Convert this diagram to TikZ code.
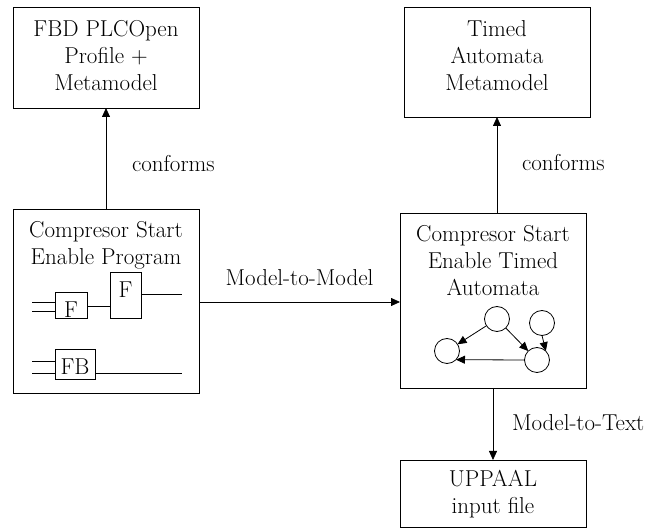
\documentclass[tikz,border=0pt]{standalone}
\usetikzlibrary{arrows.meta}
\begin{document}
\begin{tikzpicture}[x=1pt,y=-1pt,
  every node/.style={font=\fontsize{23}{27}\selectfont, inner sep=0pt, outer sep=0pt},
  bigbox/.style={draw, line width=0.8pt, minimum width=186pt},
  txt/.style={align=center},
  lbl/.style={anchor=west},
  fblock/.style={draw, line width=0.8pt},
  st/.style={draw, circle, line width=0.8pt, minimum size=25pt},
  conn/.style={line width=0.8pt, -{Triangle[length=9pt,width=8pt]}},
  wire/.style={line width=0.8pt}]
\useasboundingbox (0,0) rectangle (657,529);
% boxes
\node[bigbox, minimum height=101pt] (fbd) at (106,57.5) {};
\node[txt] (fbdt) at (106,56) {FBD PLCOpen\\Profile +\\Metamodel};
\node[bigbox, minimum height=110pt] (tam) at (497,62) {};
\node[txt] (tamt) at (497,56) {Timed\\Automata\\Metamodel};
\node[bigbox, minimum height=184pt] (prog) at (106,301) {};
\node[txt] (progt) at (106,245) {Compresor Start\\Enable Program};
\node[bigbox, minimum height=175pt] (ta) at (493,300.5) {};
\node[txt] (tat) at (493,261) {Compresor Start\\Enable Timed\\Automata};
\node[bigbox, minimum height=67pt] (upp) at (493,493.5) {};
\node[txt] (uppt) at (493,494) {UPPAAL\\input file};
% connectors
\draw[conn] (prog.north) -- (fbd.south);
\draw[conn] (tam.south |- ta.north) -- (tam.south);
\draw[conn] (prog.east |- 0,302) -- (ta.west |- 0,302);
\draw[conn] (ta.south) -- (upp.north);
% labels
\node[lbl] (c1) at (132,164) {conforms};
\node[lbl] (c2) at (522,163) {conforms};
\node (m2m) at (299.5,278) {Model-to-Model};
\node[lbl] (m2t) at (512,423) {Model-to-Text};
% FBD blocks
\node[fblock, minimum width=32pt, minimum height=26pt] (fa) at (71,305) {};
\node (fat) at (71,310) {F};
\node[fblock, minimum width=31pt, minimum height=46pt] (fb) at (125.5,295) {};
\node (fbt) at (125.5,290) {F};
\node[fblock, minimum width=40pt, minimum height=30pt] (fc) at (75,364) {};
\node (fct) at (75,367) {FB};
\draw[wire] (32,302) -- (fa.west |- 0,302);
\draw[wire] (32,311) -- (fa.west |- 0,311);
\draw[wire] (fa.east |- 0,306) -- (fb.west |- 0,306);
\draw[wire] (fb.east |- 0,294) -- (182,294);
\draw[wire] (32,361) -- (fc.west |- 0,361);
\draw[wire] (32,373) -- (fc.west |- 0,373);
\draw[wire] (fc.east |- 0,373) -- (182,373);
% automaton
\node[st] (s1) at (447,351) {};
\node[st] (s2) at (497,319) {};
\node[st] (s3) at (542,323) {};
\node[st] (s4) at (537,360) {};
\draw[conn] (s2) -- (s1);
\draw[conn] (s2) -- (s4);
\draw[conn] (s3.south) -- (s4.north east);
\draw[conn] (s4.west) -- (s1.-44);
\end{tikzpicture}
\end{document}
